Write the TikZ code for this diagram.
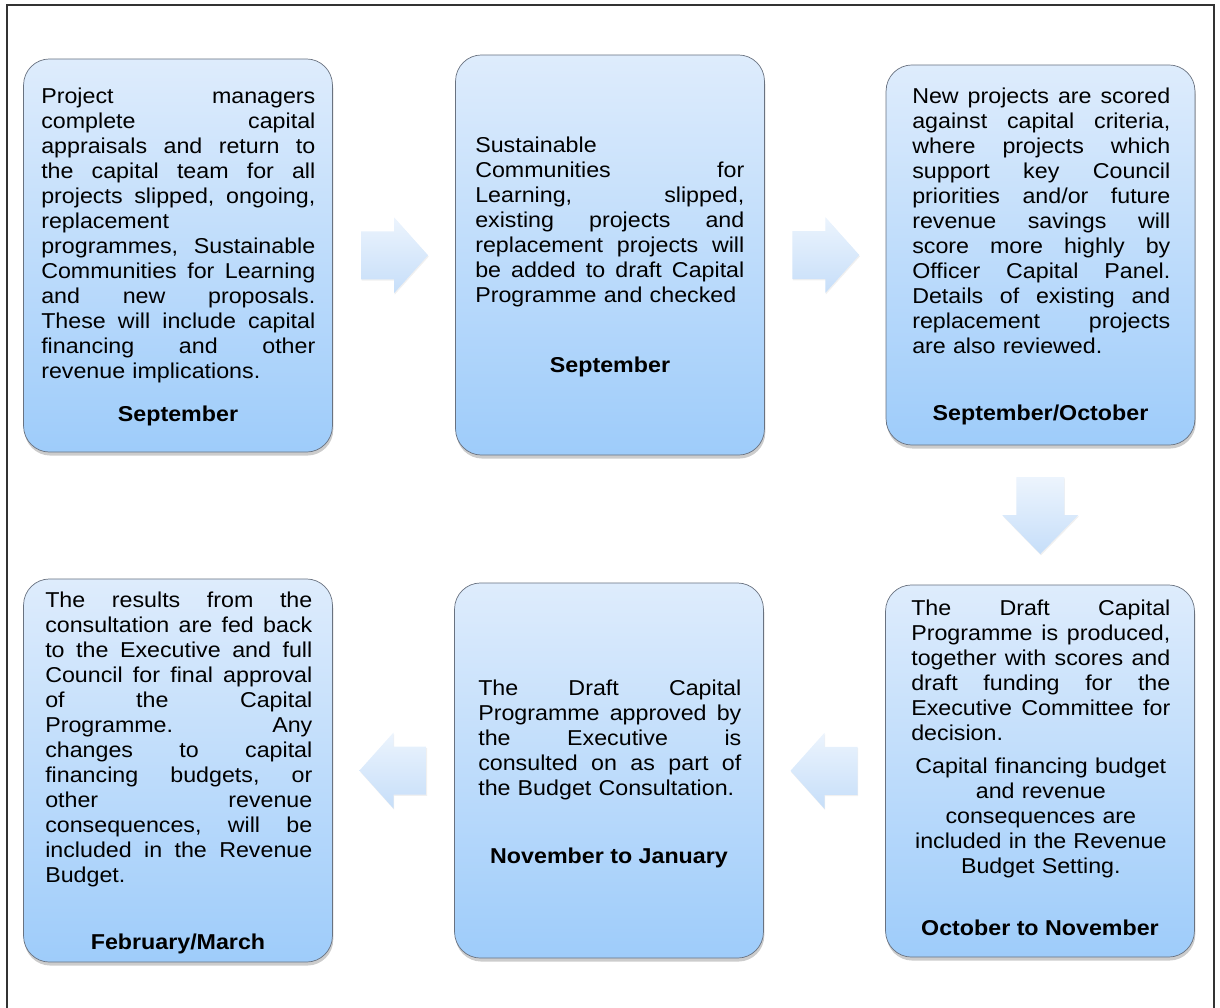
\documentclass[tikz,border=0pt]{standalone}
\usepackage{fontspec}
\setmainfont[FakeStretch=1.08]{Liberation Sans}
\usetikzlibrary{calc,shadows}
\setlength{\parindent}{0pt}
\frenchspacing

% one justified line, one centred line
\newlength{\stw}
\newcommand{\jl}[1]{\leavevmode\hbox to \stw{\spaceskip=0.28em plus 1fil minus 0.08em\relax #1}}
\newcommand{\cl}[1]{\leavevmode\hbox to \stw{\hfil #1\hfil}}

\definecolor{boxtop}{RGB}{222,236,252}
\definecolor{boxbot}{RGB}{158,204,250}
\definecolor{boxline}{RGB}{105,114,128}
\definecolor{arrtop}{RGB}{236,244,253}
\definecolor{arrbot}{RGB}{198,222,249}

\tikzset{
    pageframe/.style={draw=black!80, line width=1pt},
    stage/.style={draw=boxline, line width=0.5pt, rounded corners=0.65cm,
        top color=boxtop, bottom color=boxbot, minimum width=7.72cm,
        drop shadow={shadow xshift=0.6pt, shadow yshift=-2.5pt, opacity=0.4}},
    stagetext/.style={anchor=north west, inner sep=0pt, align=left,
        text width=#1, execute at begin node={\setlength{\stw}{#1}},
        font=\fontsize{15.3}{17.8}\selectfont},
    month/.style={anchor=base, inner sep=0pt,
        font=\fontsize{15.3}{17.8}\selectfont\bfseries},
    flow/.style={top color=arrtop, bottom color=arrbot,
        drop shadow={shadow xshift=0.5pt, shadow yshift=-1pt, opacity=0.12}}
}

\begin{document}
\begin{tikzpicture}[x=0.025cm, y=-0.025cm]
    \useasboundingbox (0,0) rectangle (1220,1007);
    \draw[pageframe] (7,5) rectangle (1214,1015);

    % the six stages
    \node[stage, minimum height=9.825cm] (b1) at (178,255.5) {};
    \node[stage, minimum height=10cm]    (b2) at (610,255) {};
    \node[stage, minimum height=9.5cm]   (b3) at (1040.5,255) {};
    \node[stage, minimum height=9.3cm]   (b4) at (1040,771) {};
    \node[stage, minimum height=9.375cm] (b5) at (609,770.5) {};
    \node[stage, minimum height=9.575cm] (b6) at (178,770.5) {};

    % block arrows between the stages
    \coordinate (a12) at ($(b1.east)!0.5!(b2.west)$);
    \coordinate (a23) at ($(b2.east)!0.5!(b3.west)$);
    \coordinate (a34) at ($(b3.south)!0.5!(b4.north)$);
    \coordinate (a45) at ($(b5.east)!0.5!(b4.west)$);
    \coordinate (a56) at ($(b6.east)!0.5!(b5.west)$);
    \path[flow, shift={(a12)}] (-33,-24) -- (0,-24) -- (0,-38) -- (34,0) -- (0,38) -- (0,24) -- (-33,24) -- cycle;
    \path[flow, shift={(a23)}] (-33,-24) -- (0,-24) -- (0,-38) -- (34,0) -- (0,38) -- (0,24) -- (-33,24) -- cycle;
    \path[flow, shift={(a34)}] (-24,-38) -- (-24,0) -- (-38,0) -- (0,39) -- (38,0) -- (24,0) -- (24,-38) -- cycle;
    \path[flow, shift={(a45)}] (33,-24) -- (0,-24) -- (0,-38) -- (-34,0) -- (0,38) -- (0,24) -- (33,24) -- cycle;
    \path[flow, shift={(a56)}] (33,-24) -- (0,-24) -- (0,-38) -- (-34,0) -- (0,38) -- (0,24) -- (33,24) -- cycle;

    % texts
    \node[stagetext=6.85cm] (t1) at (41,87.5) {%
        \jl{Project managers}\\
        \jl{complete capital}\\
        \jl{appraisals and return to}\\
        \jl{the capital team for all}\\
        \jl{projects slipped, ongoing,}\\
        replacement\\
        \jl{programmes, Sustainable}\\
        \jl{Communities for Learning}\\
        \jl{and new proposals.}\\
        \jl{These will include capital}\\
        \jl{financing and other}\\
        revenue implications.};
    \node[month] (m1) at (178,421) {September};

    \node[stagetext=6.725cm] (t2) at (475,136.5) {%
        Sustainable\\
        \jl{Communities for}\\
        \jl{Learning, slipped,}\\
        \jl{existing projects and}\\
        \jl{replacement projects will}\\
        \jl{be added to draft Capital}\\
        Programme and checked};
    \node[month] (m2) at (610,372) {September};

    \node[stagetext=6.45cm] (t3) at (912,87.5) {%
        \jl{New projects are scored}\\
        \jl{against capital criteria,}\\
        \jl{where projects which}\\
        \jl{support key Council}\\
        \jl{priorities and/or future}\\
        \jl{revenue savings will}\\
        \jl{score more highly by}\\
        \jl{Officer Capital Panel.}\\
        \jl{Details of existing and}\\
        \jl{replacement projects}\\
        are also reviewed.};
    \node[month] (m3) at (1040.5,420) {September/October};

    \node[stagetext=6.475cm] (t4) at (911,599.5) {%
        \jl{The Draft Capital}\\
        \jl{Programme is produced,}\\
        \jl{together with scores and}\\
        \jl{draft funding for the}\\
        \jl{Executive Committee for}\\
        decision.\\[0.2cm]
        \cl{Capital financing budget}\\
        \cl{and revenue}\\
        \cl{consequences are}\\
        \cl{included in the Revenue}\\
        \cl{Budget Setting.}};
    \node[month] (m4) at (1040,935) {October to November};

    \node[stagetext=6.575cm] (t5) at (478,679.5) {%
        \jl{The Draft Capital}\\
        \jl{Programme approved by}\\
        \jl{the Executive is}\\
        \jl{consulted on as part of}\\
        the Budget Consultation.};
    \node[month] (m5) at (609,863) {November to January};

    \node[stagetext=6.675cm] (t6) at (45,591.5) {%
        \jl{The results from the}\\
        \jl{consultation are fed back}\\
        \jl{to the Executive and full}\\
        \jl{Council for final approval}\\
        \jl{of the Capital}\\
        \jl{Programme. Any}\\
        \jl{changes to capital}\\
        \jl{financing budgets, or}\\
        \jl{other revenue}\\
        \jl{consequences, will be}\\
        \jl{included in the Revenue}\\
        Budget.};
    \node[month] (m6) at (178,949) {February/March};
\end{tikzpicture}
\end{document}
